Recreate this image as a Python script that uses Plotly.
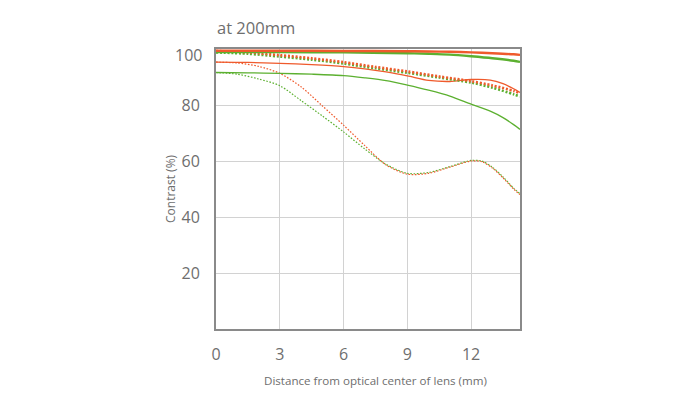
import plotly.graph_objects as go

# x positions (mm from optical center)
x_thick_solid = [0, 3, 6, 9, 10, 11, 12, 13, 14, 14.3]
red_10_sag = [99.4, 99.4, 99.3, 99.2, 99.1, 99.0, 98.8, 98.5, 98.1, 97.9]
green_10_sag = [98.9, 98.9, 98.8, 98.5, 98.3, 98.0, 97.4, 96.7, 95.8, 95.4]

x_thick_dot = [0, 1.5, 3, 4.5, 6, 7.5, 9, 10.5, 12, 13, 14, 14.3]
red_10_mer = [99.3, 98.8, 97.8, 96.7, 95.3, 93.6, 92.0, 90.2, 88.5, 87.0, 85.0, 84.2]
green_10_mer = [98.8, 98.3, 97.3, 96.2, 94.8, 93.1, 91.5, 89.8, 88.0, 86.2, 83.8, 83.0]

x_thin = [0, 1.5, 3, 4.5, 6, 7, 8, 9, 10, 11, 12, 12.9, 13.5, 14, 14.3]
red_30_sag = [95.3, 95.2, 94.9, 94.4, 93.7, 92.9, 91.8, 90.4, 88.8, 88.4, 89.1, 88.9, 87.6, 85.8, 84.5]
green_30_sag = [91.6, 91.5, 91.3, 91.0, 90.5, 89.7, 88.7, 87.1, 85.3, 83.2, 80.3, 77.8, 75.5, 73.0, 71.3]

x_thin_dot = [0, 1, 2, 3, 4, 5, 6, 7, 8, 9, 10, 11, 12, 12.5, 13, 13.5, 14, 14.3]
red_30_mer = [95.3, 95.0, 93.8, 91.3, 86.5, 79.7, 72.8, 65.5, 58.6, 55.3, 55.6, 57.8, 60.0, 59.8, 57.5, 54.0, 50.0, 48.0]
green_30_mer = [91.6, 91.0, 89.3, 86.9, 81.6, 76.1, 70.4, 64.3, 58.8, 55.6, 55.9, 58.0, 60.2, 60.0, 57.8, 54.3, 50.3, 48.3]

x_ticks = [0, 3, 6, 9, 12]
y_ticks = [20, 40, 60, 80]

RED = "#ef5a2c"
GREEN = "#5cb030"
GREY = "#6e6e6e"

fig = go.Figure()

def add(x, y, color, width, dash):
    fig.add_trace(go.Scatter(x=x, y=y, mode="lines", line=dict(color=color, width=width, dash=dash, shape="spline", smoothing=0.8),
                             hoverinfo="skip", showlegend=False))

add(x_thin_dot, green_30_mer, GREEN, 1.2, "1.6px,1.6px")
add(x_thin_dot, red_30_mer, RED, 1.2, "1.6px,1.6px")
add(x_thin, green_30_sag, GREEN, 1.3, "solid")
add(x_thin, red_30_sag, RED, 1.3, "solid")
add(x_thick_dot, green_10_mer, GREEN, 2.6, "2px,1.8px")
add(x_thick_dot, red_10_mer, RED, 2.6, "2px,1.8px")
add(x_thick_solid, green_10_sag, GREEN, 2.4, "solid")
add(x_thick_solid, red_10_sag, RED, 2.4, "solid")

font_family = "Open Sans, Noto Sans, sans-serif"

fig.update_layout(
    width=700, height=393,
    margin=dict(l=208, r=188, t=41, b=72),
    paper_bgcolor="white", plot_bgcolor="white",
    font=dict(family=font_family, color=GREY),
    xaxis=dict(range=[0, 14.3], tickvals=x_ticks, ticktext=[str(v) for v in x_ticks],
               showgrid=True, gridcolor="#d2d2d2", gridwidth=1,
               showline=True, linecolor="#8a8a8a", linewidth=2, mirror=True,
               ticks="outside", ticklen=10, tickcolor="rgba(0,0,0,0)",
               tickfont=dict(size=16, color=GREY), zeroline=False),
    yaxis=dict(range=[0, 100], tickvals=y_ticks, ticktext=[str(v) for v in y_ticks],
               showgrid=True, gridcolor="#d2d2d2", gridwidth=1,
               showline=True, linecolor="#8a8a8a", linewidth=2, mirror=True,
               ticks="outside", ticklen=11, tickcolor="rgba(0,0,0,0)",
               tickfont=dict(size=16, color=GREY), zeroline=False),
    annotations=[
        dict(text="at 200mm", xref="paper", yref="paper", x=-0.003, y=1.0, yshift=22,
             xanchor="left", yanchor="middle", showarrow=False,
             font=dict(size=16.5, color=GREY, family=font_family)),
        dict(text="100", xref="paper", yref="y", x=0, y=97.9, xshift=-12,
             xanchor="right", yanchor="middle", showarrow=False,
             font=dict(size=16, color=GREY, family=font_family)),
        dict(text="Distance from optical center of lens (mm)", xref="paper", yref="paper",
             x=0.525, y=0, yshift=-51, xanchor="center", yanchor="middle", showarrow=False,
             font=dict(size=11.6, color=GREY, family=font_family)),
        dict(text="Contrast (%)", xref="paper", yref="paper", textangle=-90,
             x=0, xshift=-46, y=0.5, xanchor="center", yanchor="middle", showarrow=False,
             font=dict(size=12, color=GREY, family=font_family)),
    ],
)

fig.write_html("out.html")
